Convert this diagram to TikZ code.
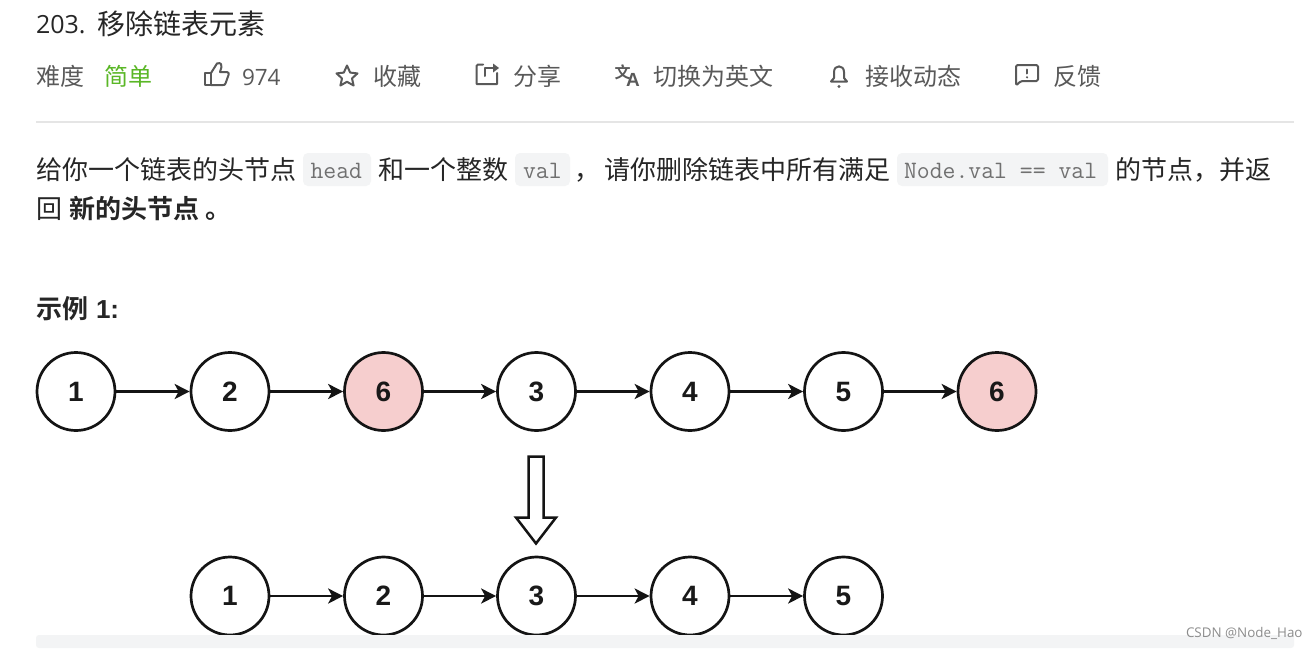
\documentclass[tikz,border=0pt]{standalone}
\usepackage{fontspec}
\setmainfont{Open Sans}
\newfontfamily\cjk[BoldFont=Noto Sans CJK SC Bold]{Noto Sans CJK SC}
\newfontfamily\numfont{Liberation Sans}
\usetikzlibrary{arrows.meta}
\definecolor{titlec}{HTML}{262626}
\definecolor{metac}{HTML}{595959}
\definecolor{easyc}{HTML}{5AB726}
\definecolor{codebg}{HTML}{F3F4F5}
\definecolor{codec}{HTML}{707070}
\definecolor{pinkc}{HTML}{F6CECE}
\newcommand{\fs}[1]{\fontsize{#1}{#1}\selectfont}
\tikzset{
  txt/.style={inner sep=0pt,outer sep=0pt,anchor=base west},
  title/.style={txt,text=titlec,font=\fs{25}},
  meta/.style={txt,text=metac,font=\cjk\fs{24}},
  metanum/.style={txt,text=metac,font=\fs{22.5}},
  body/.style={txt,text=titlec,font=\cjk\fs{26}},
  bodyb/.style={txt,text=titlec,font=\cjk\bfseries\fs{26}},
  codetxt/.style={txt,text=codec,font=\ttfamily\fs{25}},
  codebox/.style={fill=codebg,draw=none,rounded corners=5pt},
  item/.style={circle,draw=black!92,line width=2.7pt,minimum size=78pt,inner sep=0pt,fill=white,font=\numfont\bfseries\fs{28},text=black!90},
  removed/.style={item,fill=pinkc},
  link/.style={draw=black!92,line width=2.5pt,-{Stealth[length=15pt,width=15pt,inset=4pt]}},
  icon/.style={draw=metac,line width=2pt,line join=round,line cap=round},
}
\begin{document}
\begin{tikzpicture}[x=1pt,y=-1pt]
\useasboundingbox (0,0) rectangle (1316,648);
\fill[white] (0,0) rectangle (1316,648);

% header
\node[title] (t1) at (36,33) {203.};
\node[txt,text=titlec,font=\cjk\fs{28}] (t2) at (97,34) {移除链表元素};
\node[meta] (m1) at (36,85) {难度};
\node[meta,text=easyc] (m2) at (104,85) {简单};
\node[metanum] (m3) at (242,85) {974};
\node[meta] (m4) at (373,85) {收藏};
\node[meta] (m5) at (513,85) {分享};
\node[meta] (m6) at (653,85) {切换为英文};
\node[meta] (m7) at (865,85) {接收动态};
\node[meta] (m8) at (1053,85) {反馈};

% thumb icon
\draw[icon] (205,73) rectangle (211,85);
\draw[icon] (211,73) -- (217,63.5) .. controls (221,62) and (222,65) .. (221.5,67) -- (220,72) -- (227,72) .. controls (229,72) and (229,74) .. (228.5,75) -- (225.5,83.5) .. controls (225,85) and (224,85) .. (223,85) -- (211,85);
% star icon
\draw[icon] (347,65.5) -- (350.2,72.6) -- (357.5,73.4) -- (352,78.4) -- (353.6,85.5) -- (347,81.8) -- (340.4,85.5) -- (342,78.4) -- (336.5,73.4) -- (343.8,72.6) -- cycle;
% share icon
\draw[icon] (483,64.5) -- (478,64.5) -- (476.5,66) -- (476.5,84) -- (497,84) -- (497,73);
\draw[icon] (485,76) -- (485,68) -- (497,68);
\fill[metac] (493,63.5) -- (499,68) -- (493,72.5) -- cycle;
% translate icon
\node[inner sep=0pt,text=metac,font=\cjk\bfseries\fs{16}] (i1) at (622.5,72) {文};
\node[inner sep=0pt,text=metac,font=\numfont\bfseries\fs{19}] (i2) at (633,79.5) {A};
% bell icon
\draw[icon] (831,81.5) -- (834,78) -- (834,72) .. controls (834,64.5) and (844,64.5) .. (844,72) -- (844,78) -- (847,81.5) -- cycle;
\fill[metac] (839,86.5) circle (1.6pt);
% feedback icon
\draw[icon,rounded corners=1.5pt] (1016,65) -- (1038,65) -- (1038,81) -- (1021,81) -- (1016,85.5) -- cycle;
\draw[icon] (1027,69.5) -- (1027,73.5);
\fill[metac] (1027,77.3) circle (1.2pt);

\draw[draw=black!10,line width=1.4pt] (36,122) -- (1294,122);

% description
\fill[codebox] (303,153) rectangle (371,186);
\fill[codebox] (515,153) rectangle (570,186);
\fill[codebox] (897,153) rectangle (1108,186);
\node[body] (b1) at (36,179) {给你一个链表的头节点};
\node[codetxt] (c1) at (310.5,178) {head};
\node[body] (b2) at (378,179) {和一个整数};
\node[codetxt] (c2) at (523,178) {val};
\node[body] (b3) at (574,179) {，};
\node[body] (b4) at (604,179) {请你删除链表中所有满足};
\node[codetxt] (c3) at (904,178) {Node.val == val};
\node[body] (b5) at (1115,179) {的节点，并返};
\node[body] (b6) at (36,218) {回};
\node[bodyb] (b7) at (69,218) {新的头节点};
\node[bodyb] (b8) at (205,218) {。};
\node[bodyb] (b9) at (36,318) {示例};
\node[txt,text=titlec,font=\numfont\bfseries\fs{26}] (b10) at (96,318) {1:};

% first list
\node[item] (a1) at (76,391.5) {1};
\node[item] (a2) at (230,391.5) {2};
\node[removed] (a3) at (383.5,391.5) {6};
\node[item] (a4) at (536.5,391.5) {3};
\node[item] (a5) at (690,391.5) {4};
\node[item] (a6) at (843.5,391.5) {5};
\node[removed] (a7) at (997,391.5) {6};
\draw[link] (a1) -- (a2);
\draw[link] (a2) -- (a3);
\draw[link] (a3) -- (a4);
\draw[link] (a4) -- (a5);
\draw[link] (a5) -- (a6);
\draw[link] (a6) -- (a7);

% block arrow
\draw[draw=black!92,line width=2.5pt,fill=white,line join=miter] (528.5,456.5) -- (543.5,456.5) -- (543.5,517.5) -- (556,517.5) -- (536,543.5) -- (516,517.5) -- (528.5,517.5) -- cycle;

% second list
\node[item] (r1) at (230,596) {1};
\node[item] (r2) at (383.5,596) {2};
\node[item] (r3) at (536.5,596) {3};
\node[item] (r4) at (690,596) {4};
\node[item] (r5) at (843.5,596) {5};
\draw[link] (r1) -- (r2);
\draw[link] (r2) -- (r3);
\draw[link] (r3) -- (r4);
\draw[link] (r4) -- (r5);

% code block top and watermark
\fill[codebg,rounded corners=3pt] (36,648) -- (36,635) -- (1294,635) -- (1294,648) -- cycle;
\node[txt,text=black!45,font=\fs{13.4}] (w) at (1186,637) {CSDN @Node\_Hao};
\end{tikzpicture}
\end{document}
